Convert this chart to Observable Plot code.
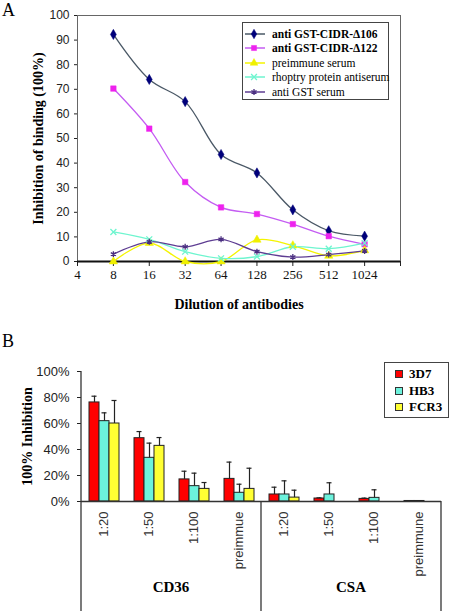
<!DOCTYPE html>
<html><head><meta charset="utf-8">
<script src="https://cdn.jsdelivr.net/npm/d3@7"></script>
<script src="https://cdn.jsdelivr.net/npm/@observablehq/plot@0.6"></script>
<style>
body{margin:0;background:#fff;}
#wrap{position:relative;width:450px;height:611px;overflow:hidden;background:#fff;}
.panel{position:absolute;left:0;}
.lbl{position:absolute;font-family:"Liberation Serif",serif;color:#000;line-height:1;}
#A g[aria-label="y-axis label"] text, #A g[aria-label="x-axis label"] text,
#B g[aria-label="y-axis label"] text {font:bold 14px "Liberation Serif",serif;fill:#000}
.legbox{position:absolute;border:1px solid #444;background:#fff;box-sizing:border-box;font-family:"Liberation Serif",serif;color:#000;}
.row{position:absolute;left:0;display:flex;align-items:center;white-space:nowrap;}
</style></head>
<body><div id="wrap">
<div id="A" class="panel" style="top:0"></div>
<div id="B" class="panel" style="top:320px"></div>
<div class="lbl" style="left:2px;top:1px;font-size:18px">A</div>
<div class="lbl" style="left:2px;top:332px;font-size:18px">B</div>
<div id="legA" class="legbox" style="left:242px;top:22px;width:147px;height:78px"></div>
<div id="legB" class="legbox" style="left:384px;top:362px;width:65px;height:56px"></div>
</div>
<script>
// ---------- Panel A data ----------
const dilutions = [8, 16, 32, 64, 128, 256, 512, 1024];
const xTicksA = [4, 8, 16, 32, 64, 128, 256, 512, 1024, 2048];
const yTicksA = [0, 10, 20, 30, 40, 50, 60, 70, 80, 90, 100];
const seriesNamesA = ["anti GST-CIDR-\u0394106", "anti GST-CIDR-\u0394122", "preimmune serum", "rhoptry protein antiserum", "anti GST serum"];
const cidr106 = [92.3, 74, 65, 43.5, 36, 21, 12.5, 10.3];
const cidr122 = [70.3, 54, 32.3, 22, 19.3, 15.2, 10.3, 7];
const preimmune = [0, 7.5, 0, 0, 8.8, 6.5, 2.3, 4.5];
const rhoptry = [12, 9, 4, 1.3, 2, 6, 5.2, 7.5];
const antiGST = [3, 8, 6, 9, 4, 1.8, 2.8, 4.3];
const valuesA = [cidr106, cidr122, preimmune, rhoptry, antiGST];

// ---------- Panel B data ----------
const conditions = ["1:20", "1:50", "1:100", "preimmue", "1:20", "1:50", "1:100", "preimmune"];
const receptors = ["CD36", "CD36", "CD36", "CD36", "CSA", "CSA", "CSA", "CSA"];
const strains = ["3D7", "HB3", "FCR3"];
const yTicksB = [0, 20, 40, 60, 80, 100];
const mean3D7 = [76.2, 48.7, 17, 17.4, 5.4, 2.3, 2, 0.4];
const err3D7 = [81, 53.8, 23.3, 30.3, 11, 2.8, 2.6, 0.5];
const meanHB3 = [61.8, 33.6, 11.8, 6.7, 5.4, 5.4, 2.8, 0.4];
const errHB3 = [68.2, 44.9, 21.8, 13.3, 15.9, 14.4, 9, 0.5];
const meanFCR3 = [60, 42.8, 9.7, 9.7, 3, 0, 0, 0];
const errFCR3 = [77.7, 49.2, 14.6, 25.6, 8.7, 0, 0, 0];

// ---------- styles ----------
const lineColorsA = ["#4a5866", "#c45cf2", "#f4f400", "#6ef5cf", "#5e3d92"];
const markColorsA = ["#00007a", "#ee22ee", "#f0f000", "#6ef5cf", "#4a2f80"];
const symbolsA = ["diamond", "square", "triangle", "times", "asterisk"];
const strainColors = ["#ff0000", "#6cf2dc", "#ffff33"];

const SANS = '"Liberation Sans", Arial, sans-serif';
const SERIF = '"Liberation Serif", "Times New Roman", serif';

// ---------- Panel A ----------
const rowsA = [];
seriesNamesA.forEach((name, i) => dilutions.forEach((d, j) => rowsA.push({series: name, idx: i, dilution: d, value: valuesA[i][j]})));

const marksA = [
  Plot.frame({stroke: "#666", strokeWidth: 1}),
  Plot.axisY({ticks: yTicksA, tickSize: 3, tickPadding: 5, label: "Inhibition of binding (100%)", labelAnchor: "center", labelOffset: 44, labelArrow: "none"}),
  Plot.axisX({ticks: xTicksA, tickSize: 5, tickPadding: 3, fontFamily: SERIF, fontSize: 13, fill: "#111", tickFormat: d => d === 2048 ? "" : String(d), label: "Dilution of antibodies", labelAnchor: "center", labelOffset: 47, labelArrow: "none"}),
  Plot.ruleY([0], {stroke: "#111", strokeWidth: 2.2})
];
seriesNamesA.forEach((name, i) => {
  const rows = rowsA.filter(r => r.idx === i);
  marksA.push(Plot.line(rows, {x: "dilution", y: "value", stroke: lineColorsA[i], strokeWidth: 1.3, curve: "catmull-rom"}));
});
seriesNamesA.forEach((name, i) => {
  const rows = rowsA.filter(r => r.idx === i);
  const strokeSym = symbolsA[i] === "times" || symbolsA[i] === "asterisk";
  marksA.push(Plot.dot(rows, strokeSym
    ? {x: "dilution", y: "value", symbol: () => symbolsA[i], r: 2.8, stroke: markColorsA[i], strokeWidth: 1.3}
    : {x: "dilution", y: "value", symbol: () => symbolsA[i], r: 3.1, fill: markColorsA[i], stroke: markColorsA[i], strokeWidth: 0.5}));
});

const chartA = Plot.plot({
  width: 450, height: 320,
  marginLeft: 77, marginRight: 50, marginTop: 15, marginBottom: 59,
  x: {type: "log", base: 2, domain: [4, 2048]},
  y: {domain: [0, 100]},
  symbol: {type: "identity"},
  style: {fontFamily: SANS, fontSize: "12px", color: "#222", background: "white", overflow: "visible"},
  marks: marksA
});
document.getElementById("A").appendChild(chartA);

// Legend A
const legA = d3.select("#legA");
const symMap = {diamond: d3.symbolDiamond, square: d3.symbolSquare, triangle: d3.symbolTriangle, times: d3.symbolTimes, asterisk: d3.symbolAsterisk};
seriesNamesA.forEach((name, i) => {
  const row = legA.append("div").attr("class", "row").style("top", (4 + i * 14.4) + "px").style("height", "14px");
  const s = row.append("svg").attr("width", 28).attr("height", 14);
  s.append("line").attr("x1", 2).attr("x2", 22).attr("y1", 7).attr("y2", 7).attr("stroke", lineColorsA[i]).attr("stroke-width", 1.5);
  const strokeSym = symbolsA[i] === "times" || symbolsA[i] === "asterisk";
  s.append("path").attr("transform", "translate(11,7)").attr("d", d3.symbol(symMap[symbolsA[i]], strokeSym ? 24 : 26)())
    .attr("fill", strokeSym ? "none" : markColorsA[i]).attr("stroke", markColorsA[i]).attr("stroke-width", strokeSym ? 1.3 : 0.5);
  row.append("span").text(name).style("font-size", "11.5px").style("font-weight", i < 2 ? "bold" : "normal").style("margin-left", "1px");
});

// ---------- Panel B ----------
const keys = conditions.map((c, i) => receptors[i] + "|" + c);
const meansB = [mean3D7, meanHB3, meanFCR3];
const errsB = [err3D7, errHB3, errFCR3];
const rowsB = [];
keys.forEach((k, i) => strains.forEach((s, j) => rowsB.push({key: k, strain: s, value: meansB[j][i], err: errsB[j][i]})));
const errRows = rowsB.filter(r => r.err > r.value);

const chartB = Plot.plot({
  width: 450, height: 291,
  marginLeft: 79, marginRight: 7, marginTop: 51, marginBottom: 110,
  fx: {domain: keys, padding: 0},
  x: {domain: strains, paddingInner: 0, paddingOuter: 0.7, axis: null},
  y: {domain: [0, 100]},
  color: {domain: strains, range: strainColors},
  style: {fontFamily: SANS, fontSize: "12px", color: "#222", background: "white", overflow: "visible"},
  marks: [
    Plot.axisY({ticks: yTicksB, tickFormat: d => d + "%", tickSize: 4, tickPadding: 8, fontSize: 13, label: "100% Inhibition", labelAnchor: "center", labelOffset: 59, labelArrow: "none"}),
    Plot.axisFx({anchor: "bottom", tickRotate: -90, tickSize: 0, tickPadding: 10, fontSize: 13, tickFormat: d => d.split("|")[1], label: null, fill: "#333"}),
    Plot.barY(rowsB, {fx: "key", x: "strain", y: "value", fill: "strain", stroke: "#222", strokeWidth: 1}),
    Plot.ruleX(errRows, {fx: "key", x: "strain", y1: "value", y2: "err", stroke: "#222", strokeWidth: 1.2}),
    Plot.tickY(errRows, {fx: "key", x: "strain", y: "err", stroke: "#222", strokeWidth: 1.2, insetLeft: 2.5, insetRight: 2.5}),
    Plot.ruleY([0], {stroke: "#333", strokeWidth: 1.6})
  ]
});
document.getElementById("B").appendChild(chartB);

// Group separators and receptor labels, placed with the plot's own scales
const fxS = chartB.scale("fx"), yS = chartB.scale("y");
const svgB = d3.select(chartB);
const xStart = fxS.apply(keys[0]);
const xMid = fxS.apply(keys[4]);
const xEnd = fxS.apply(keys[7]) + fxS.bandwidth;
const yTop = yS.apply(100), yZero = yS.apply(0);
const sep = svgB.append("g").attr("stroke", "#333").attr("stroke-width", 1.3);
sep.append("line").attr("x1", xStart).attr("x2", xStart).attr("y1", yTop).attr("y2", 291);
sep.append("line").attr("x1", xMid).attr("x2", xMid).attr("y1", yZero).attr("y2", 291);
sep.append("line").attr("x1", xEnd).attr("x2", xEnd).attr("y1", yZero).attr("y2", 291);
const receptorNames = ["CD36", "CSA"];
svgB.append("g").selectAll("text").data(receptorNames).join("text")
  .attr("x", (d, i) => i === 0 ? (xStart + xMid) / 2 : (xMid + xEnd) / 2)
  .attr("y", 272).attr("text-anchor", "middle")
  .style("font", "bold 15px " + SERIF).attr("fill", "#000").text(d => d);

// Legend B
const legB = d3.select("#legB");
strains.forEach((s, i) => {
  const row = legB.append("div").attr("class", "row").style("top", (3 + i * 16.5) + "px").style("height", "16px").style("left", "10px");
  row.append("div").style("width", "6px").style("height", "6px").style("background", strainColors[i]).style("border", "1px solid #333");
  row.append("span").text(s).style("font-size", "13px").style("font-weight", "bold").style("margin-left", "6px");
});
</script>
</body></html>
